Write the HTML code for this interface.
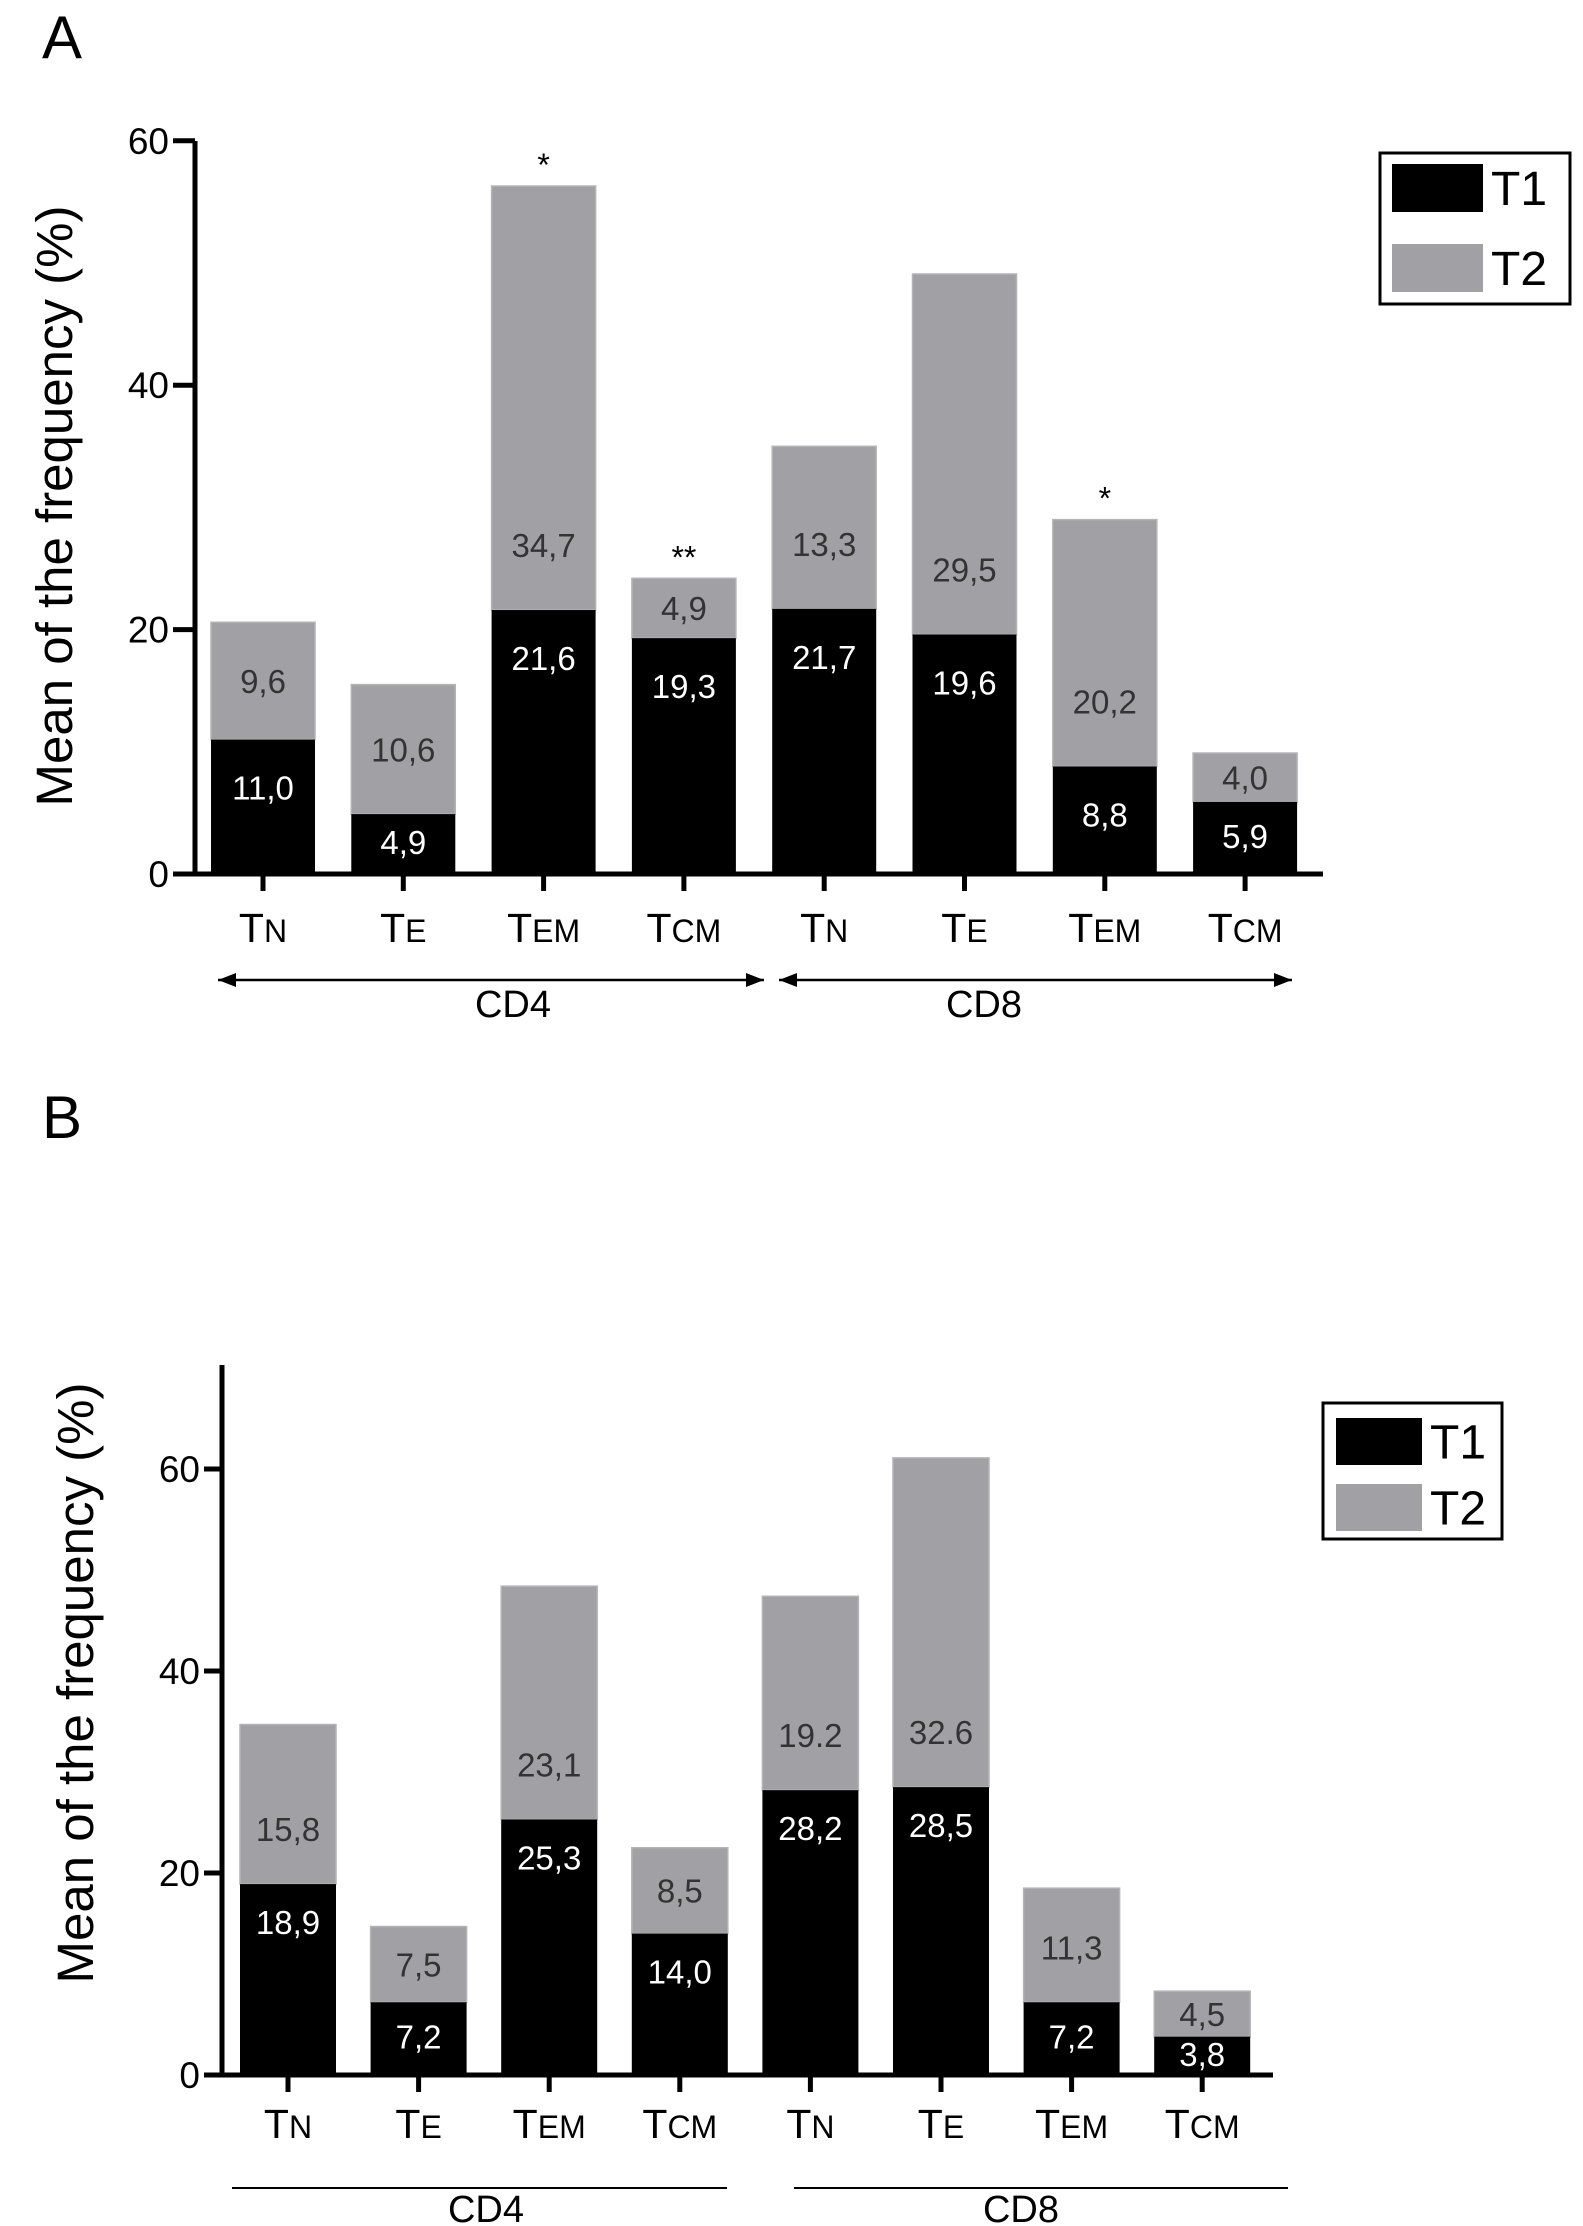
<!DOCTYPE html>
<html><head><meta charset="utf-8"><style>
html,body{margin:0;padding:0;background:#fff;}
svg{display:block;font-family:"Liberation Sans",sans-serif;}
</style></head><body>
<svg id="fig" width="1583" height="2226" viewBox="0 0 1583 2226"></svg>
<script>
const categories = ["N","E","EM","CM","N","E","EM","CM"];
const groupLabels = ["CD4","CD8"];
const seriesNames = ["T1","T2"];
const aT1 = [11.0,4.9,21.6,19.3,21.7,19.6,8.8,5.9];
const aT2 = [9.6,10.6,34.7,4.9,13.3,29.5,20.2,4.0];
const aT1Labels = ["11,0","4,9","21,6","19,3","21,7","19,6","8,8","5,9"];
const aT2Labels = ["9,6","10,6","34,7","4,9","13,3","29,5","20,2","4,0"];
const aStars = ["","","*","**","","","*",""];
const bT1 = [18.9,7.2,25.3,14.0,28.2,28.5,7.2,3.8];
const bT2 = [15.8,7.5,23.1,8.5,19.2,32.6,11.3,4.5];
const bT1Labels = ["18,9","7,2","25,3","14,0","28,2","28,5","7,2","3,8"];
const bT2Labels = ["15,8","7,5","23,1","8,5","19.2","32.6","11,3","4,5"];
const yTicks = [0,20,40,60];

const NS="http://www.w3.org/2000/svg";
const svg=document.getElementById('fig');
function mk(tag,attrs,parent,text){const e=document.createElementNS(NS,tag);for(const k in attrs)e.setAttribute(k,attrs[k]);if(text!==undefined)e.textContent=text;(parent||svg).appendChild(e);return e;}

function panel(cfg,t1,t2,l1,l2,stars){
  const g=mk('g',{});
  
  
  const y=v=>cfg.y0-v*cfg.ppu;
  const xb=i=>cfg.bx0+i*cfg.step;
  for(let i=0;i<t1.length;i++){
    const x=xb(i), yT1=y(t1[i]), yT2=y(t1[i]+t2[i]);
    const r2=mk('rect',{x:x,y:yT2,width:cfg.bw,height:yT1-yT2,fill:'#a1a1a5',stroke:'#b4b4b8','stroke-width':1.5},g);
    
    
    const r1=mk('rect',{x:x,y:yT1,width:cfg.bw,height:cfg.y0-yT1,fill:'#000'},g);
    
    
    const cx=x+cfg.bw/2;
    const gh=yT1-yT2, bh=cfg.y0-yT1;
    const ty2=yT1-Math.min(cfg.off2,gh/2)+12;
    const tx2=mk('text',{x:cx,y:ty2,'text-anchor':'middle','font-size':cfg.vfs,fill:'#333'},g,l2[i]);
    
    
    const ty1=yT1+Math.min(cfg.off1,bh/2)+10;
    const tx1=mk('text',{x:cx,y:ty1,'text-anchor':'middle','font-size':cfg.vfs,fill:'#fff'},g,l1[i]);
    
    
    if(stars && stars[i]){
      const st=mk('text',{x:cx,y:yT2-10,'text-anchor':'middle','font-size':32,fill:'#000'},g,stars[i]);
      
      
    }
    mk('line',{x1:cx,x2:cx,y1:cfg.y0,y2:cfg.y0+17,stroke:'#000','stroke-width':5},g);
    const cl=mk('text',{x:cx,y:cfg.catY,'text-anchor':'middle','font-size':41,fill:'#000'},g);
    
    
    mk('tspan',{},cl,'T');
    mk('tspan',{'font-size':32},cl,categories[i]);
  }
  const ya=mk('line',{x1:cfg.ax,x2:cfg.ax,y1:cfg.axTop,y2:cfg.y0+2.5,stroke:'#000','stroke-width':5},g);
  
  
  const xa=mk('line',{x1:cfg.ax-2.5,x2:cfg.axRight,y1:cfg.y0,y2:cfg.y0,stroke:'#000','stroke-width':5},g);
  
  
  for(const t of yTicks){
    mk('line',{x1:cfg.ax-cfg.tl,x2:cfg.ax,y1:y(t),y2:y(t),stroke:'#000','stroke-width':5},g);
    const tl=mk('text',{x:cfg.ax-cfg.tl-4,y:y(t)+13,'text-anchor':'end','font-size':37,fill:'#000'},g,String(t));
    
    
  }
  const yt=mk('text',{x:0,y:0,transform:`translate(${cfg.ytX},${cfg.ytY}) rotate(-90)`,'text-anchor':'middle','font-size':51,fill:'#000'},g,'Mean of the frequency (%)');
  
  
  const pl=mk('text',{x:cfg.plX,y:cfg.plY,'font-size':60,fill:'#000'},g,cfg.letter);
  
  
  const lg=mk('g',{},g);
  
  
  const L=cfg.leg;
  mk('rect',{x:L.x,y:L.y,width:L.w,height:L.h,fill:'#fff',stroke:'#000','stroke-width':3},lg);
  const cols=['#000','#a1a1a5'];
  for(let s=0;s<2;s++){
    const e=mk('g',{},lg);
    
    
    mk('rect',{x:L.sx,y:L.sy[s],width:L.sw,height:L.sh,fill:cols[s]},e);
    mk('text',{x:L.sx+L.sw+8,y:L.sy[s]+L.sh/2+17,'font-size':48,fill:'#000'},e,seriesNames[s]);
  }
  for(let k=0;k<2;k++){
    const gr=cfg.groups[k];
    const gg=mk('g',{},g);
    
    
    mk('line',{x1:gr[0],x2:gr[1],y1:cfg.gY,y2:cfg.gY,stroke:'#000','stroke-width':cfg.arrows?2.5:2},gg);
    if(cfg.arrows){
      mk('path',{d:`M${gr[0]} ${cfg.gY} l18 -7 l0 14 z`,fill:'#000'},gg);
      mk('path',{d:`M${gr[1]} ${cfg.gY} l-18 -7 l0 14 z`,fill:'#000'},gg);
    }
    mk('text',{x:cfg.gLX[k],y:cfg.gLY,'text-anchor':'middle','font-size':38,fill:'#000'},gg,groupLabels[k]);
  }
}

panel({name:'panel-a',letter:'A',plX:42,plY:58,y0:874,ppu:12.22,bx0:211,step:140.3,bw:104,
  ax:195,axTop:141,axRight:1323,tl:22,vfs:33,off1:50,off2:65,catY:942,
  ytX:72,ytY:506,
  leg:{x:1380,y:153,w:190,h:151,sx:1392,sy:[164,244],sw:91,sh:48},
  groups:[[218,764],[779,1292]],gLX:[513,984],gY:980,gLY:1017,arrows:true},aT1,aT2,aT1Labels,aT2Labels,aStars);

panel({name:'panel-b',letter:'B',plX:42,plY:1138,y0:2075,ppu:10.1,bx0:240,step:130.6,bw:96,
  ax:222,axTop:1365,axRight:1273,tl:18,vfs:33,off1:40,off2:55,catY:2138,
  ytX:93,ytY:1683,
  leg:{x:1323,y:1403,w:179,h:136,sx:1336,sy:[1418,1484],sw:86,sh:47},
  groups:[[232,727],[794,1288]],gLX:[486,1021],gY:2188,gLY:2222,arrows:false},bT1,bT2,bT1Labels,bT2Labels,null);
</script>
</body></html>
